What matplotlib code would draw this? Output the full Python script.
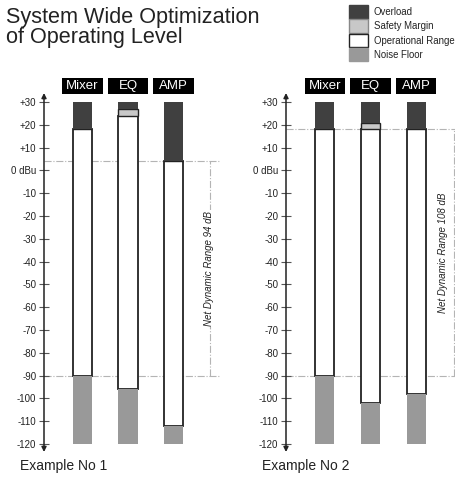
import matplotlib
matplotlib.use("Agg")
import matplotlib.pyplot as plt
from matplotlib.patches import Rectangle

plt.rcParams['font.family'] = ['Liberation Sans', 'DejaVu Sans']

# data
stages = ['Mixer', 'EQ', 'AMP']
floor_db = -120
ceiling_db = 30
ex1_noise_top = [-90, -96, -112]
ex1_op_top = [18, 24, 4]
ex1_safety_top = [18, 27, 4]
ex2_noise_top = [-90, -102, -98]
ex2_op_top = [18, 18, 18]
ex2_safety_top = [18, 21, 18]
ex1_range = (4, -90)
ex2_range = (18, -90)
ytick_vals = [30, 20, 10, 0, -10, -20, -30, -40, -50, -60, -70, -80, -90, -100, -110, -120]
ytick_labels = ['+30', '+20', '+10', '0 dBu', '-10', '-20', '-30', '-40', '-50', '-60',
                '-70', '-80', '-90', '-100', '-110', '-120']

C_OVER = '#404040'
C_SAFE = '#c8c8c8'
C_NOISE = '#999999'
C_LINE = '#b4b4b4'
C_TEXT = '#222222'

W, H = 456, 478
fig = plt.figure(figsize=(W / 100, H / 100), dpi=100)

YLO, YHI = -123.5, 33.95
X0 = -0.846


def panel(left_px, width_px, xmax, line_end, noise_top, op_top, safety_top, rng, line_x, text_x, label):
    ax = fig.add_axes([left_px / W, 26 / H, width_px / W, 359 / H])
    ax.set_xlim(X0, xmax)
    ax.set_ylim(YLO, YHI)
    for s in ax.spines.values():
        s.set_visible(False)
    ax.set_xticks([])
    ax.set_yticks(ytick_vals)
    ax.set_yticklabels(ytick_labels)
    ax.tick_params(axis='y', direction='inout', length=7, width=0.8, color='#555555',
                   labelsize=7, labelcolor=C_TEXT, pad=2)
    ax.patch.set_alpha(0)

    x = list(range(len(stages)))
    bw = 0.42
    op_h = [o - n for o, n in zip(op_top, noise_top)]
    safe_h = [s - o for s, o in zip(safety_top, op_top)]
    over_h = [ceiling_db - s for s in safety_top]
    noise_h = [n - floor_db for n in noise_top]

    # range guide lines
    for yv in rng:
        ax.plot([X0, line_end], [yv, yv], color=C_LINE, lw=0.8, ls='-.', zorder=1, clip_on=False)
    ax.plot([line_x, line_x], [rng[1], rng[0]], color=C_LINE, lw=0.8, ls='-.', zorder=1)
    ax.text(text_x, (rng[0] + rng[1]) / 2, 'Net Dynamic Range %d dB' % (rng[0] - rng[1]),
            rotation=90, ha='center', va='center', fontsize=7, style='italic', color=C_TEXT,
            bbox=dict(facecolor='white', edgecolor='none', pad=1), zorder=2)

    ax.bar(x, op_h, bottom=noise_top, width=bw, color='white', edgecolor='#222222', lw=1.3, zorder=3)
    ax.bar(x, safe_h, bottom=op_top, width=bw, color=C_SAFE, edgecolor='#222222', lw=1.0, zorder=4)
    ax.bar(x, over_h, bottom=safety_top, width=bw, color=C_OVER, edgecolor='none', zorder=5)
    ax.bar(x, noise_h, bottom=floor_db, width=bw, color=C_NOISE, edgecolor='none', zorder=5)

    # stage labels
    for i, name in enumerate(stages):
        ax.add_patch(Rectangle((i - 0.44, 33.5), 0.88, 7.0, facecolor='black', edgecolor='none',
                               clip_on=False, zorder=6))
        ax.text(i, 37.0, name, ha='center', va='center', color='white', fontsize=9.5,
                zorder=7, clip_on=False)

    # axis with arrows both ends
    ax.annotate('', xy=(X0, YHI), xytext=(X0, YLO),
                arrowprops=dict(arrowstyle='<|-|>', color='#222222', lw=1.1,
                                mutation_scale=7, shrinkA=0, shrinkB=0),
                annotation_clip=False)

    fig.text((left_px - 24) / W, 1 - 470 / H, label, fontsize=10, color=C_TEXT, va='baseline')
    return ax


panel(44, 184, 3.198, 3.02, ex1_noise_top, ex1_op_top, ex1_safety_top, ex1_range, 2.80, 2.77, 'Example No 1')
panel(286, 170, 2.87, 2.87, ex2_noise_top, ex2_op_top, ex2_safety_top, ex2_range, 2.82, 2.58, 'Example No 2')

fig.text(6 / W, 1 - 43 / H, 'System Wide Optimization\nof Operating Level', fontsize=15.6,
         color=C_TEXT, va='baseline', linespacing=0.93)

# legend
legend_items = [('Overload', C_OVER, C_OVER), ('Safety Margin', C_SAFE, '#888888'),
                ('Operational Range', 'white', '#222222'), ('Noise Floor', C_NOISE, C_NOISE)]
for i, (name, fc, ec) in enumerate(legend_items):
    y_top = 5 + i * 14.3
    fig.add_artist(Rectangle((349 / W, 1 - (y_top + 13.5) / H), 19 / W, 13.5 / H,
                             facecolor=fc, edgecolor=ec, lw=1.0, transform=fig.transFigure))
    fig.text(374 / W, 1 - (y_top + 7) / H, name, fontsize=6.9, color=C_TEXT, va='center')

fig.savefig('out.png', dpi=100)
